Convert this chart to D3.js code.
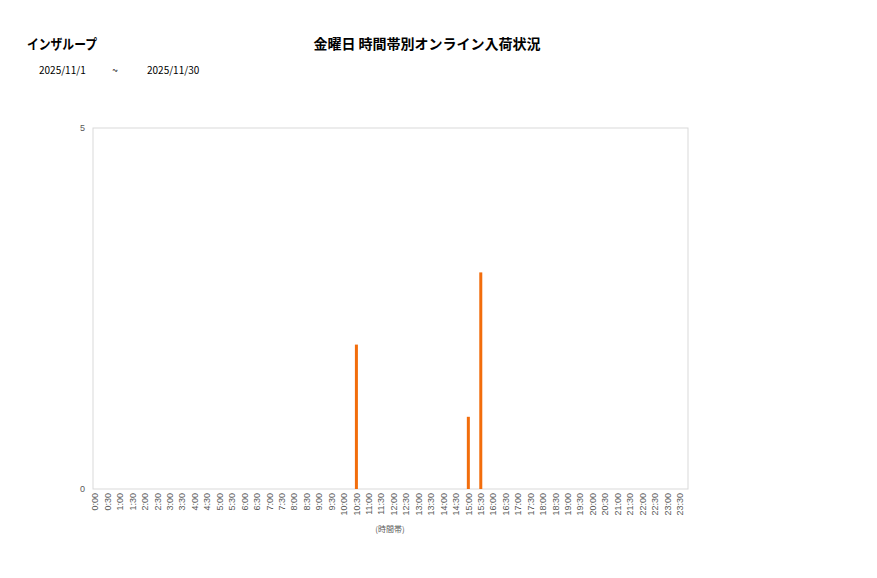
<!DOCTYPE html>
<html><head><meta charset="utf-8">
<script src="https://cdn.jsdelivr.net/npm/d3@7"></script>
<style>body{margin:0;background:#fff;}svg{display:block;font-family:"Noto Sans CJK JP","Noto Sans",sans-serif;}</style>
</head><body>
<svg id="c" width="877" height="578"></svg>
<script>
const company = "インザループ";
const title = "金曜日 時間帯別オンライン入荷状況";
const dateFrom = "2025/11/1";
const dateTo = "2025/11/30";
const xAxisTitle = "(時間帯)";
const categories = [];
for (let h = 0; h < 24; h++) { categories.push(h + ":00", h + ":30"); }
const values = [0,0,0,0,0,0,0,0,0,0,0,0,0,0,0,0,0,0,0,0,0,2,0,0,0,0,0,0,0,0,1,3,0,0,0,0,0,0,0,0,0,0,0,0,0,0,0,0];
const yTicks = [0,5];

const svg = d3.select("#c");
const plot = {l:93, r:688, t:128, b:489};
const x = d3.scaleBand().domain(categories).range([89, 686]);
const y = d3.scaleLinear().domain([0,5]).range([plot.b, plot.t]);

svg.append("rect").attr("x",plot.l).attr("y",plot.t).attr("width",plot.r-plot.l).attr("height",plot.b-plot.t)
  .attr("fill","none").attr("stroke","#d9d9d9").attr("stroke-width",1);

svg.append("g").selectAll("rect").data(values.map((v,i)=>({c:categories[i],v}))).join("rect")
  .attr("x",d=>x(d.c)+x.bandwidth()/2-1.5).attr("width",3)
  .attr("y",d=>y(d.v)).attr("height",d=>y(0)-y(d.v)).attr("fill","#f26d0c");

const yAxis = svg.append("g").attr("transform",`translate(${plot.l},0)`)
  .call(d3.axisLeft(y).tickValues(yTicks).tickFormat(d3.format("d")).tickSize(0).tickPadding(8));
yAxis.select(".domain").remove();
yAxis.selectAll("text").attr("font-size",9).attr("fill","#595959");

const xAxis = svg.append("g").attr("transform",`translate(0,${plot.b})`)
  .call(d3.axisBottom(x).tickSize(0).tickPadding(4));
xAxis.select(".domain").remove();
xAxis.selectAll("text").attr("font-size",9).attr("fill","#595959")
  .attr("transform","rotate(-90)").attr("text-anchor","end").attr("dy","0.35em").attr("x",-4).attr("y",0);

svg.append("text").attr("x",390).attr("y",532).attr("text-anchor","middle").attr("font-size",8).attr("fill","#595959").text(xAxisTitle);
svg.append("text").attr("x",427).attr("y",49).attr("text-anchor","middle").attr("font-size",14).attr("font-weight","bold").attr("fill","#000").text(title);
svg.append("text").attr("x",27).attr("y",49).attr("font-size",14).attr("font-weight","bold").attr("fill","#000")
  .attr("textLength",70).attr("lengthAdjust","spacingAndGlyphs").text(company);
svg.append("text").attr("x",39).attr("y",74).attr("font-size",10).attr("fill","#000").text(dateFrom);
svg.append("text").attr("x",115).attr("y",74).attr("text-anchor","middle").attr("font-size",10).attr("fill","#000").text("~");
svg.append("text").attr("x",147).attr("y",74).attr("font-size",10).attr("fill","#000").text(dateTo);
</script>
</body></html>
